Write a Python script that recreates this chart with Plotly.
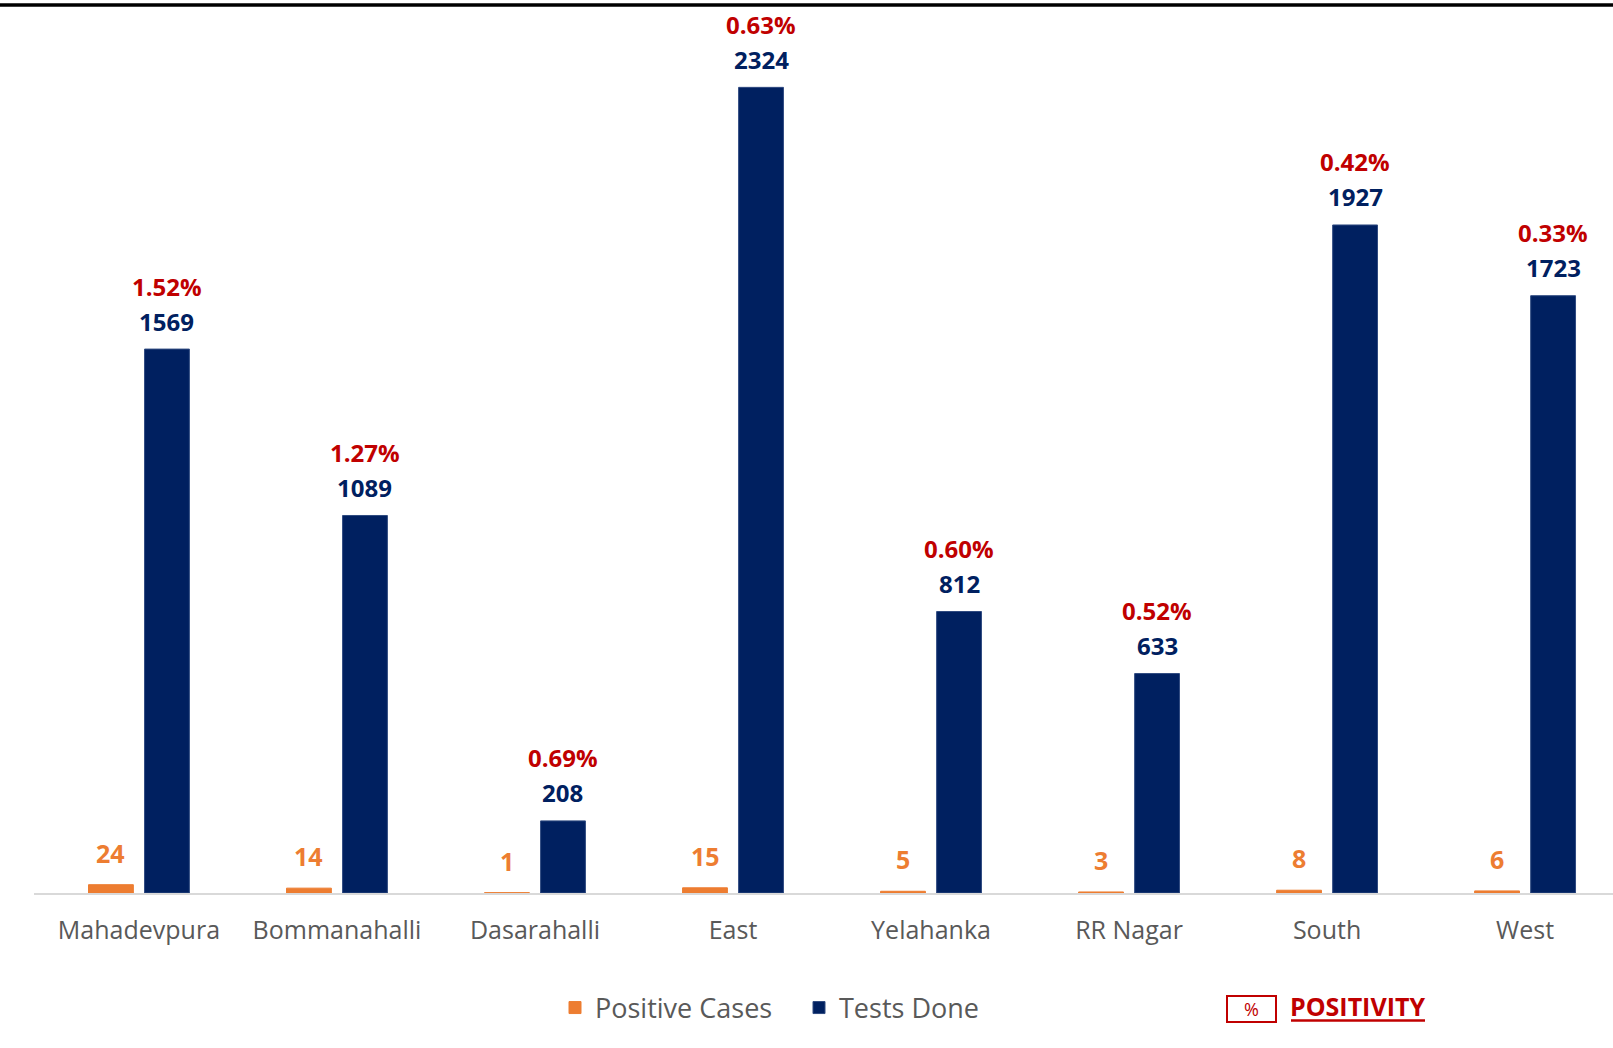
import plotly.graph_objects as go

categories = ["Mahadevpura", "Bommanahalli", "Dasarahalli", "East", "Yelahanka", "RR Nagar", "South", "West"]
positive_cases = [24, 14, 1, 15, 5, 3, 8, 6]
tests_done = [1569, 1089, 208, 2324, 812, 633, 1927, 1723]
positivity = ["1.52%", "1.27%", "0.69%", "0.63%", "0.60%", "0.52%", "0.42%", "0.33%"]

ORANGE = "#ED7D31"
NAVY = "#002060"
RED = "#C00000"
GRAY = "#595959"
FONT = "Open Sans"

W, H = 1613, 1048
L, R, T, B = 34, 0, 0, 155
PW, PH = W - L - R, H - T - B


def px_x(x):
    return (x - L) / PW


def px_y(y):
    return (H - B - y) / PH


fig = go.Figure()
fig.add_trace(go.Bar(
    x=categories, y=positive_cases, name="Positive Cases",
    marker=dict(color=ORANGE, line=dict(color=ORANGE, width=1)),
))
fig.add_trace(go.Bar(
    x=categories, y=tests_done, name="Tests Done",
    marker=dict(color=NAVY, line=dict(color="#2F4A80", width=1)),
))

annotations = []
for c, p, t, pct in zip(categories, positive_cases, tests_done, positivity):
    annotations.append(dict(
        x=c, y=p, xref="x", yref="y", text=f"<b>{p}</b>", showarrow=False,
        xshift=-28, yshift=32, yanchor="middle",
        font=dict(family=FONT, size=25, color=ORANGE)))
    annotations.append(dict(
        x=c, y=t, xref="x", yref="y", text=f"<b>{t}</b>", showarrow=False,
        xshift=28, yshift=28, yanchor="middle",
        font=dict(family=FONT, size=24, color=NAVY)))
    annotations.append(dict(
        x=c, y=t, xref="x", yref="y", text=f"<b>{pct}</b>", showarrow=False,
        xshift=28, yshift=63, yanchor="middle",
        font=dict(family=FONT, size=24, color=RED)))

# positivity key
annotations.append(dict(
    x=px_x(1251.5), y=px_y(1009), xref="paper", yref="paper", text="%",
    showarrow=False, xanchor="center", yanchor="middle",
    font=dict(family=FONT, size=18, color=RED)))
annotations.append(dict(
    x=px_x(1288), y=px_y(1006), xref="paper", yref="paper", text="<b>POSITIVITY</b>",
    showarrow=False, xanchor="left", yanchor="middle",
    font=dict(family=FONT, size=25, color=RED)))

shapes = [
    dict(type="rect", xref="paper", yref="paper",
         x0=px_x(1227), x1=px_x(1276), y0=px_y(1022), y1=px_y(996),
         line=dict(color=RED, width=2), fillcolor="rgba(0,0,0,0)"),
    dict(type="line", xref="paper", yref="paper",
         x0=px_x(1291), x1=px_x(1425), y0=px_y(1020.5), y1=px_y(1020.5),
         line=dict(color=RED, width=2.5)),
    dict(type="line", xref="paper", yref="paper",
         x0=px_x(0), x1=px_x(W), y0=px_y(5), y1=px_y(5),
         line=dict(color="black", width=3.5)),
]

fig.update_layout(
    width=W, height=H,
    margin=dict(l=L, r=R, t=T, b=B),
    paper_bgcolor="white", plot_bgcolor="white",
    barmode="group", bargap=0.434, bargroupgap=0.2,
    font=dict(family=FONT, color=GRAY),
    showlegend=True,
    legend=dict(orientation="h", x=px_x(555), y=px_y(1008), xanchor="left", yanchor="middle",
                font=dict(family=FONT, size=27, color=GRAY), bgcolor="rgba(0,0,0,0)",
                traceorder="normal", entrywidth=199, entrywidthmode="pixels"),
    annotations=annotations,
    shapes=shapes,
    xaxis=dict(type="category", range=[-0.53, 7.444], showline=True, linecolor="#D9D9D9",
               linewidth=2, showgrid=False, zeroline=False, ticks="",
               tickfont=dict(family=FONT, size=25, color=GRAY), ticklabelstandoff=14),
    yaxis=dict(range=[0, 2576], visible=False, showgrid=False, zeroline=False),
)

fig.write_html("out.html", config={"displayModeBar": False},
               post_script="document.body.style.margin='0px';")
